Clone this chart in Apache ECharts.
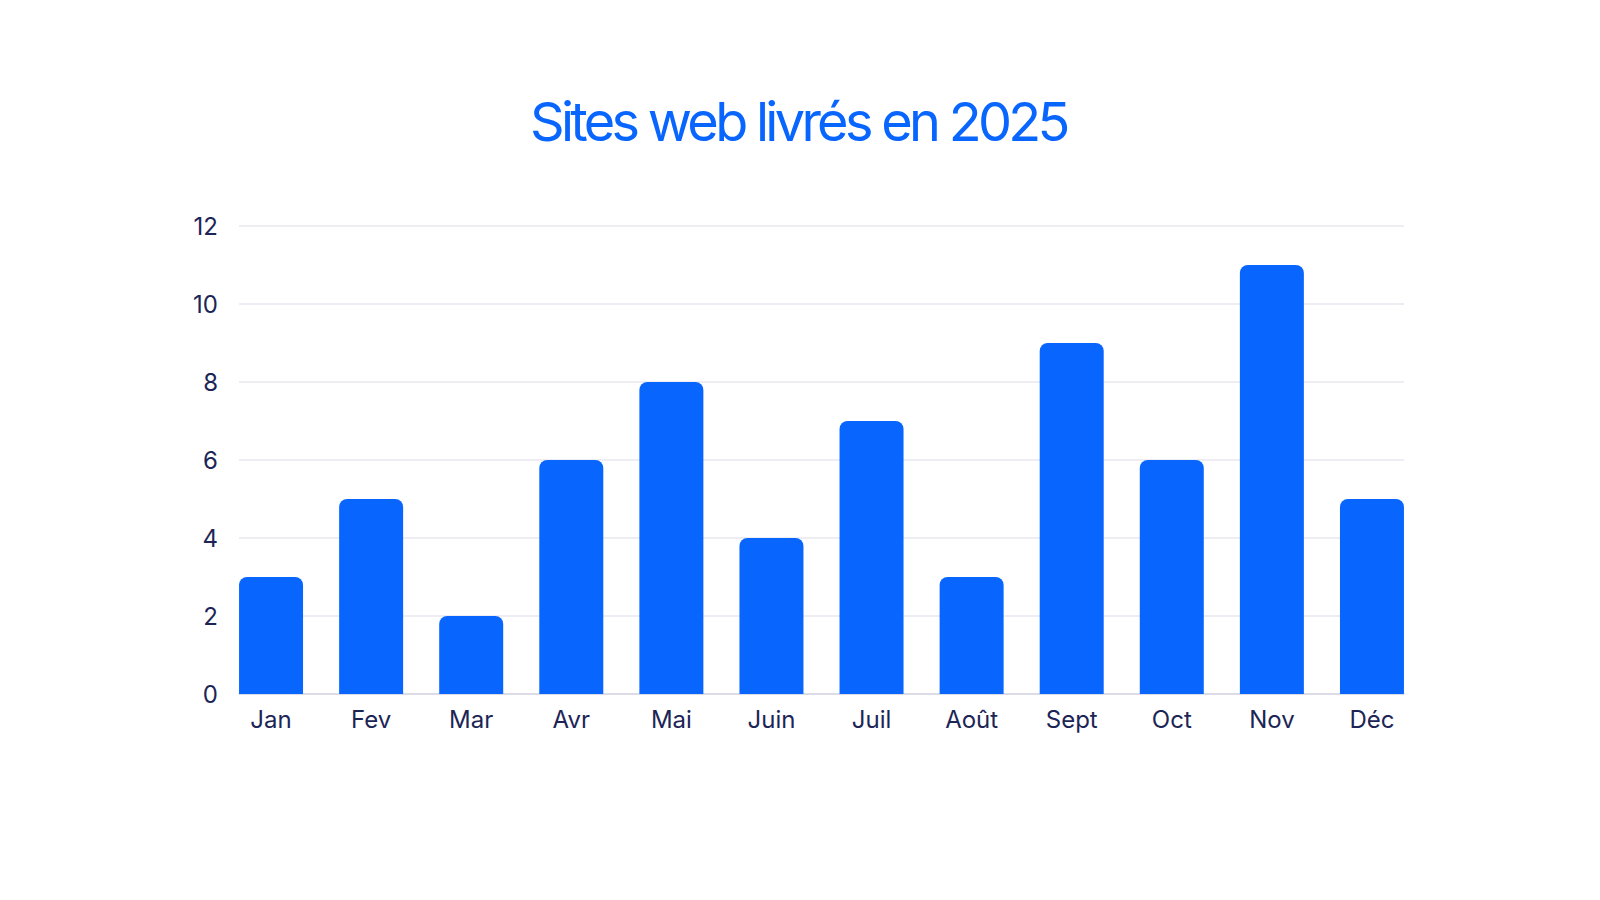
<!DOCTYPE html>
<html>
<head>
<meta charset="utf-8">
<script src="https://cdn.jsdelivr.net/npm/echarts@6/dist/echarts.min.js"></script>
<style>
    html, body {margin: 0; padding: 0; background: #ffffff;}
    #chart {width: 1600px; height: 900px;}
    /* the title is set with a tight tracking, only the title text is filled with this blue */
    #chart text[fill="#0866ff"] {letter-spacing: -3.7px;}
</style>
</head>
<body>
<div id="chart"></div>
<script>

var months = ['Jan', 'Fev', 'Mar', 'Avr', 'Mai', 'Juin', 'Juil', 'Août', 'Sept', 'Oct', 'Nov', 'Déc'];
var sitesLivres = [3, 5, 2, 6, 8, 4, 7, 3, 9, 6, 11, 5];
var yTicks = [0, 2, 4, 6, 8, 10, 12];

var blue = '#0866ff';
var navy = '#1c2556';

var myChart = echarts.init(document.getElementById('chart'), null, {renderer: 'svg'});

option = {
    title: {
        text: 'Sites web livrés en 2025',
        left: 530,
        top: 94,
        padding: 0,
        textStyle: {
            color: blue,
            fontFamily: 'Inter',
            fontSize: 54,
            fontWeight: 'normal'
        }
    },
    // grid 0 holds the bars, grid 1 only draws the y axis and the grid lines
    grid: [
        {left: 221, right: 178, top: 226, bottom: 206},
        {left: 239, right: 196, top: 226, bottom: 206}
    ],
    xAxis: [{
        type: 'category',
        gridIndex: 0,
        data: months,
        axisLine: {show: false},
        axisTick: {show: false},
        axisLabel: {
            color: navy,
            fontFamily: 'Inter',
            fontSize: 24,
            margin: 13
        }
    }, {
        type: 'value',
        gridIndex: 1,
        min: 0,
        max: 1,
        axisLine: {show: true, lineStyle: {color: '#d6d6e6', width: 1.5}},
        axisTick: {show: false},
        axisLabel: {show: false},
        splitLine: {show: false}
    }],
    yAxis: [{
        type: 'value',
        gridIndex: 0,
        min: 0,
        max: 12,
        interval: 2,
        axisLine: {show: false},
        axisTick: {show: false},
        axisLabel: {show: false},
        splitLine: {show: false}
    }, {
        type: 'value',
        gridIndex: 1,
        min: yTicks[0],
        max: yTicks[yTicks.length - 1],
        interval: 2,
        axisLine: {show: false},
        axisTick: {show: false},
        axisLabel: {
            color: navy,
            fontFamily: 'Inter',
            fontSize: 24,
            margin: 21
        },
        splitLine: {lineStyle: {color: '#e7e7ef', width: 1.5}}
    }],
    series: [{
        type: 'bar',
        xAxisIndex: 0,
        yAxisIndex: 0,
        data: sitesLivres,
        barWidth: 64,
        z: 3,
        itemStyle: {
            color: blue,
            borderRadius: [8, 8, 0, 0]
        }
    }]
};

myChart.setOption(option);
</script>
</body>
</html>
